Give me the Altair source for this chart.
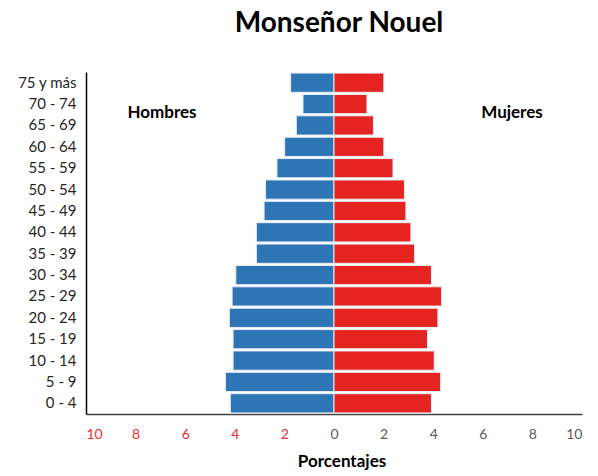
import altair as alt
import pandas as pd

ages = ["75 y más", "70 - 74", "65 - 69", "60 - 64", "55 - 59", "50 - 54", "45 - 49",
        "40 - 44", "35 - 39", "30 - 34", "25 - 29", "20 - 24", "15 - 19", "10 - 14",
        "5 - 9", "0 - 4"]
hombres = [1.75, 1.25, 1.52, 1.99, 2.30, 2.76, 2.82, 3.13, 3.13, 3.96, 4.11, 4.22,
           4.07, 4.07, 4.38, 4.18]
mujeres = [2.01, 1.33, 1.59, 2.01, 2.38, 2.84, 2.90, 3.10, 3.25, 3.93, 4.34, 4.19,
           3.77, 4.04, 4.30, 3.93]
x_ticks = [-10, -8, -6, -4, -2, 0, 2, 4, 6, 8, 10]

title_text = "Monseñor Nouel"
x_title = "Porcentajes"
side_labels = ["Hombres", "Mujeres"]

FONT = "Lato"
W, H = 496, 342

rows = []
for a, h, m in zip(ages, hombres, mujeres):
    rows.append({"edad": a, "sexo": "Hombres", "valor": -h})
    rows.append({"edad": a, "sexo": "Mujeres", "valor": m})
df = pd.DataFrame(rows)

bars = alt.Chart(df).mark_bar(stroke="#e8eef5", strokeWidth=1).encode(
    x=alt.X("valor:Q", scale=alt.Scale(domain=[-10, 10], nice=False),
            axis=alt.Axis(values=x_ticks, labelExpr="abs(datum.value)", title=None,
                          grid=False, ticks=False, labelPadding=13, labelFontSize=14,
                          labelFont=FONT, domainColor="#404040", domainWidth=1.5,
                          labelColor={"condition": {"test": "datum.value < 0", "value": "#E8302F"},
                                      "value": "#595959"})),
    y=alt.Y("edad:N", sort=ages,
            scale=alt.Scale(paddingInner=0.1, paddingOuter=0.05),
            axis=alt.Axis(title=None, ticks=False, labelPadding=10, labelFontSize=15,
                          labelFont=FONT, labelColor="#262626", domainColor="#000000",
                          domainWidth=1.5, grid=False)),
    color=alt.Color("sexo:N", scale=alt.Scale(domain=["Hombres", "Mujeres"],
                                              range=["#2E75B6", "#E52421"]), legend=None),
)

title_df = pd.DataFrame({"t": [title_text]})
title = alt.Chart(title_df).mark_text(font=FONT, fontSize=28, fontWeight="bold",
                                      color="#000000", baseline="alphabetic").encode(
    text="t:N", x=alt.value(253), y=alt.value(-40))

side_df = pd.DataFrame({"t": side_labels, "px": [76, 426]})
sides = alt.Chart(side_df).mark_text(font=FONT, fontSize=17, fontWeight="bold",
                                     color="#000000", baseline="middle").encode(
    text="t:N", x=alt.X("px:Q", scale=None), y=alt.value(41))

xt_df = pd.DataFrame({"t": [x_title]})
xt = alt.Chart(xt_df).mark_text(font=FONT, fontSize=17, fontWeight="bold",
                                color="#000000", baseline="middle").encode(
    text="t:N", x=alt.value(256), y=alt.value(390))

chart = alt.layer(bars, title, sides, xt).properties(
    width=W, height=H,
    background="white",
    autosize=alt.AutoSizeParams(type="none"),
    padding={"left": 78, "top": 64, "right": 8, "bottom": 60},
).configure_view(stroke=None)

chart.save("out.html", embed_options={"renderer": "svg", "actions": False})
